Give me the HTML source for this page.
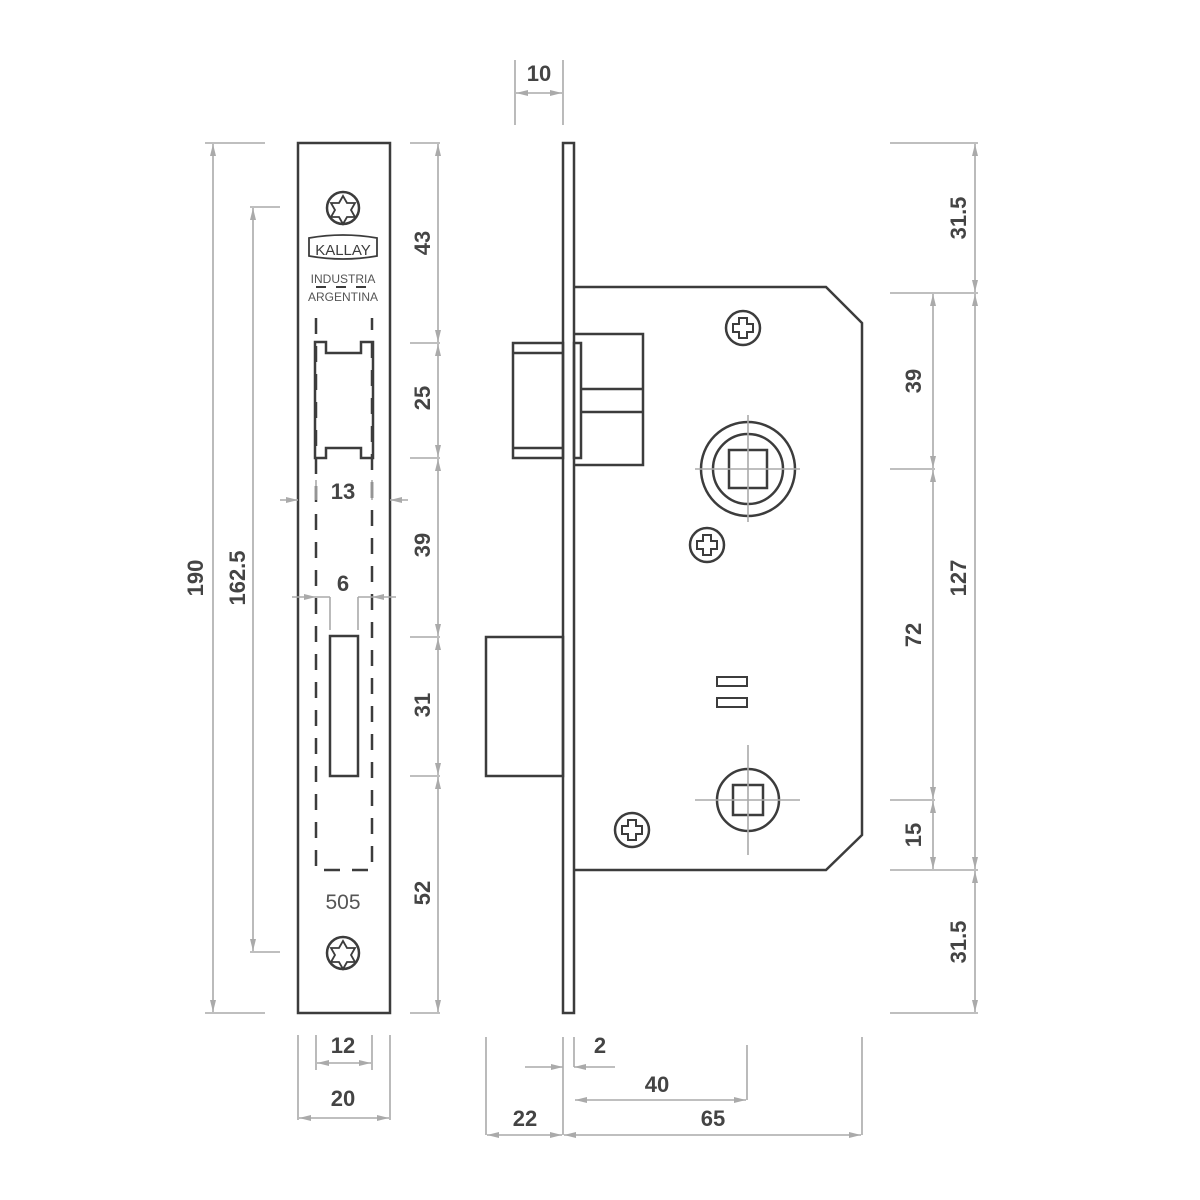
<!DOCTYPE html>
<html><head><style>body{margin:0;background:#fff}svg{display:block}</style></head><body>
<svg width="1200" height="1200" viewBox="0 0 1200 1200" xmlns="http://www.w3.org/2000/svg">
<defs>
<marker id="e" viewBox="0 0 12 6" refX="12" refY="3" markerWidth="12" markerHeight="6" markerUnits="userSpaceOnUse" orient="auto"><path d="M0,0L12,3L0,6z" fill="#aaa"/></marker>
<marker id="s" viewBox="0 0 12 6" refX="0" refY="3" markerWidth="12" markerHeight="6" markerUnits="userSpaceOnUse" orient="auto"><path d="M12,0L0,3L12,6z" fill="#aaa"/></marker>
</defs>
<g fill="none" stroke="#3c3c3c" stroke-width="2.5">
<rect x="298" y="143" width="92" height="870"/>
<path d="M316 318V870H372V318" stroke-dasharray="16,12"/>
<path d="M316 287H372" stroke-dasharray="10,10" stroke-width="2"/>
<path d="M315 342H326V353H361V342H373V458H361V448H326V458H315Z"/>
<rect x="330" y="636" width="28" height="140"/>
<circle cx="343" cy="208" r="16"/><path d="M343 196l4 7 8 0-4 7 4 7-8 0-4 7-4-7-8 0 4-7-4-7 8 0z" stroke-width="1.8"/>
<circle cx="343" cy="953" r="16"/><path d="M343 941l4 7 8 0-4 7 4 7-8 0-4 7-4-7-8 0 4-7-4-7 8 0z" stroke-width="1.8"/>
<path d="M309 238Q343 232 377 238V256Q343 262 309 256Z" stroke-width="1.8"/>
<rect x="563" y="143" width="11" height="870"/>
<path d="M574 287H826L862 323V835L826 870H574"/>
<rect x="513" y="343" width="50" height="115"/>
<path d="M513 353H563M513 448H563"/>
<rect x="574" y="343" width="7" height="115"/>
<path d="M574 334H643V465H574M581 389H643M581 412H643"/>
<rect x="486" y="637" width="77" height="139"/>
<circle cx="743" cy="328" r="17"/><circle cx="707" cy="545" r="17"/><circle cx="632" cy="830" r="17"/>
<circle cx="748" cy="469" r="47"/><circle cx="748" cy="469" r="35"/>
<rect x="729" y="450" width="38" height="38"/>
<circle cx="748" cy="800" r="31"/><rect x="733" y="785" width="30" height="30"/>
<rect x="717" y="677" width="30" height="9" stroke-width="2"/><rect x="717" y="698" width="30" height="9" stroke-width="2"/>
</g>
<g fill="#fff" stroke="#3c3c3c" stroke-width="2">
<path d="M739 318h8v6h6v8h-6v6h-8v-6h-6v-8h6z"/>
<path d="M703 535h8v6h6v8h-6v6h-8v-6h-6v-8h6z"/>
<path d="M628 820h8v6h6v8h-6v6h-8v-6h-6v-8h6z"/>
</g>
<g stroke="#aaa" stroke-width="1.6" fill="none">
<path d="M695 469H800M748 415V522M695 800H800M748 745V855"/>
</g>
<text x="343" y="255" font-family="Liberation Sans,sans-serif" font-size="15" fill="#3c3c3c" text-anchor="middle">KALLAY</text>
<g font-family="Liberation Sans,sans-serif" font-size="12" fill="#555" text-anchor="middle">
<text x="343" y="283">INDUSTRIA</text><text x="343" y="301">ARGENTINA</text></g>
<text x="343" y="909" font-family="Liberation Sans,sans-serif" font-size="21" fill="#555" text-anchor="middle">505</text>
<g stroke="#aaa" stroke-width="1.6" fill="none">
<path d="M205 143H265M205 1013H265M250 207H280M250 952H280"/>
<path d="M410 143H440M410 343H440M410 458H440M410 637H440M410 776H440M410 1013H440"/>
<path d="M515 60V125M563 60V125"/>
<path d="M890 143H978M890 293H978M890 469H935M890 800H935M890 870H978M890 1013H978"/>
<path d="M298 1035V1120M390 1035V1120M316 1035V1070M372 1035V1070"/>
<path d="M316 480V500M372 480V500M330 597V630M358 597V630"/>
<path d="M486 1037V1135M563 1037V1135M574 1037V1067M747 1045V1100M862 1037V1135"/>
</g>
<g stroke="#aaa" stroke-width="1.6" fill="none" marker-start="url(#s)" marker-end="url(#e)">
<path d="M213 144V1012"/><path d="M253 208V951"/>
<path d="M438 144V342"/><path d="M438 344V457"/><path d="M438 459V636"/><path d="M438 638V775"/><path d="M438 777V1012"/>
<path d="M516 93H562"/>
<path d="M975 144V292"/><path d="M975 294V869"/><path d="M975 871V1012"/>
<path d="M933 294V468"/><path d="M933 470V799"/><path d="M933 801V869"/>
<path d="M317 1063H371"/><path d="M299 1118H389"/>
<path d="M575 1100H746"/><path d="M487 1135H562"/><path d="M564 1135H861"/>
</g>
<g stroke="#aaa" stroke-width="1.6" fill="none" marker-end="url(#e)">
<path d="M280 500H298"/><path d="M408 500H390"/><path d="M292 597H316"/><path d="M396 597H372"/>
<path d="M525 1067H563"/><path d="M615 1067H574"/>
</g>
<g stroke="#aaa" stroke-width="1.6" fill="none"><path d="M316 597H330M372 597H358"/></g>
<g font-family="Liberation Sans,sans-serif" font-size="22" font-weight="bold" fill="#444" text-anchor="middle">
<text transform="translate(203,578) rotate(-90)">190</text>
<text transform="translate(245,578) rotate(-90)">162.5</text>
<text transform="translate(430,243) rotate(-90)">43</text>
<text transform="translate(430,398) rotate(-90)">25</text>
<text transform="translate(430,545) rotate(-90)">39</text>
<text transform="translate(430,705) rotate(-90)">31</text>
<text transform="translate(430,893) rotate(-90)">52</text>
<text transform="translate(966,218) rotate(-90)">31.5</text>
<text transform="translate(966,578) rotate(-90)">127</text>
<text transform="translate(966,942) rotate(-90)">31.5</text>
<text transform="translate(921,381) rotate(-90)">39</text>
<text transform="translate(921,635) rotate(-90)">72</text>
<text transform="translate(921,835) rotate(-90)">15</text>
<text x="539" y="81">10</text>
<text x="343" y="499">13</text>
<text x="343" y="591">6</text>
<text x="343" y="1053">12</text>
<text x="343" y="1106">20</text>
<text x="600" y="1053">2</text>
<text x="657" y="1092">40</text>
<text x="525" y="1126">22</text>
<text x="713" y="1126">65</text>
</g>
</svg>
</body></html>
